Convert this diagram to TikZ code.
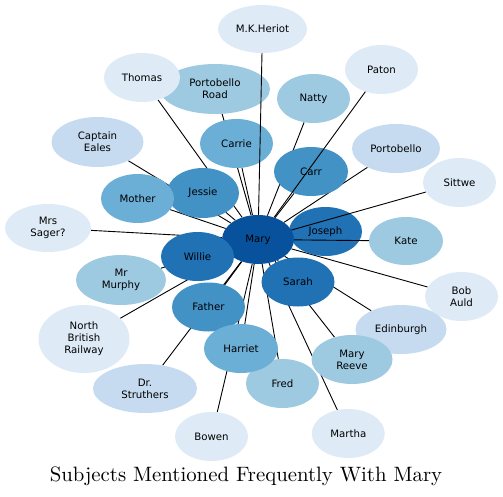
\documentclass[tikz,border=0pt]{standalone}
\usepackage{fontspec}
\newfontfamily\nodefont{DejaVu Sans}
\newfontfamily\titlefont{lmroman10-regular.otf}
\usetikzlibrary{shapes.geometric,backgrounds}
\definecolor{ca}{HTML}{08519C}
\definecolor{cb}{HTML}{2171B5}
\definecolor{cc}{HTML}{4292C6}
\definecolor{cd}{HTML}{6BAED6}
\definecolor{ce}{HTML}{9ECAE1}
\definecolor{cf}{HTML}{C6DBEF}
\definecolor{cg}{HTML}{DEEBF7}
\tikzset{
  bub/.style={ellipse, inner sep=0pt, draw=none, text=black, align=center,
    font=\nodefont\fontsize{10.2}{12}\selectfont,
    minimum width=74pt, minimum height=48pt},
  link/.style={draw=black, line width=0.9pt},
}
\begin{document}
\begin{tikzpicture}[x=1pt,y=-1pt]
\useasboundingbox (0,0) rectangle (503,496);
% nodes
\node[bub,fill=ce,minimum width=110pt,minimum height=50pt] (pobroad) at (215,89) {Portobello\\Road};
\node[bub,fill=cg,minimum width=76pt,minimum height=49pt] (thomas) at (142,77.5) {Thomas};
\node[bub,fill=cg,minimum width=89pt] (heriot) at (262.5,29) {M.K.Heriot};
\node[bub,fill=cg,minimum width=73pt,minimum height=49pt] (paton) at (381.5,69.5) {Paton};
\node[bub,fill=ce,minimum width=73pt,minimum height=49pt] (natty) at (313.5,98.5) {Natty};
\node[bub,fill=cd,minimum width=73pt,minimum height=49pt] (carrie) at (236.5,143.5) {Carrie};
\node[bub,fill=cf,minimum width=92pt,minimum height=50pt] (eales) at (97.5,142) {Captain\\Eales};
\node[bub,fill=cf,minimum width=88pt,minimum height=49pt] (pobello) at (396,148.5) {Portobello};
\node[bub,fill=cc,minimum width=74pt,minimum height=49pt] (carr) at (311,171.5) {Carr};
\node[bub,fill=cg,minimum width=73pt,minimum height=49pt] (sittwe) at (459.5,182.5) {Sittwe};
\node[bub,fill=cc,minimum width=72pt,minimum height=50pt] (jessie) at (203,193) {Jessie};
\node[bub,fill=cd,minimum width=73pt,minimum height=49pt] (mother) at (137.5,198.5) {Mother};
\node[bub,fill=cg,minimum width=86pt,minimum height=48pt] (sager) at (48,228) {Mrs\\Sager?};
\node[bub,fill=cb,minimum width=73pt,minimum height=49pt] (joseph) at (325.5,231.5) {Joseph};
\node[bub,fill=ce,minimum width=74pt,minimum height=48pt] (kate) at (406,241) {Kate};
\node[bub,fill=ca,minimum width=72pt,minimum height=49pt] (mary) at (258,239.5) {Mary};
\node[bub,fill=ce,minimum width=90pt,minimum height=50pt] (murphy) at (121,280) {Mr\\Murphy};
\node[bub,fill=cb,minimum width=73pt,minimum height=49pt] (willie) at (197.5,256.5) {Willie};
\node[bub,fill=cb,minimum width=73pt,minimum height=49pt] (sarah) at (298,282) {Sarah};
\node[bub,fill=cg,minimum width=73pt,minimum height=49pt] (auld) at (461.5,296.5) {Bob\\Auld};
\node[bub,fill=cc,minimum width=73pt,minimum height=49pt] (father) at (208.5,307) {Father};
\node[bub,fill=cg,minimum width=91pt,minimum height=68pt] (nbr) at (84,339) {North\\British\\Railway};
\node[bub,fill=cf,minimum width=91pt,minimum height=49pt] (edin) at (401,329.5) {Edinburgh};
\node[bub,fill=ce,minimum width=73pt,minimum height=49pt] (fred) at (282.5,383.5) {Fred};
\node[bub,fill=cd,minimum width=74pt,minimum height=49pt] (harriet) at (241,348.5) {Harriet};
\node[bub,fill=ce,minimum width=81pt,minimum height=49pt] (reeve) at (352,359.5) {Mary\\Reeve};
\node[bub,fill=cf,minimum width=104pt,minimum height=49pt] (struthers) at (145,388.5) {Dr.\\Struthers};
\node[bub,fill=cg,minimum width=73pt,minimum height=49pt] (bowen) at (211.5,436.5) {Bowen};
\node[bub,fill=cg,minimum width=73pt,minimum height=49pt] (martha) at (348.3,433.5) {Martha};
% edges behind the nodes
\begin{pgfonlayer}{background}
\foreach \n in {pobroad,thomas,natty,carrie,eales,pobello,carr,jessie,mother,sager,joseph,murphy,willie,sarah,auld,father,nbr,edin,fred,harriet,reeve,struthers,bowen,martha}
  \draw[link] (mary) -- (\n);
\end{pgfonlayer}
% edges drawn over other nodes
\foreach \n in {heriot,paton,sittwe,kate}
  \draw[link] (mary) -- (\n);
% title
\node[font=\titlefont\fontsize{20.8}{25}\selectfont, anchor=base] (title) at (246,481) {Subjects Mentioned Frequently With Mary};
\end{tikzpicture}
\end{document}
